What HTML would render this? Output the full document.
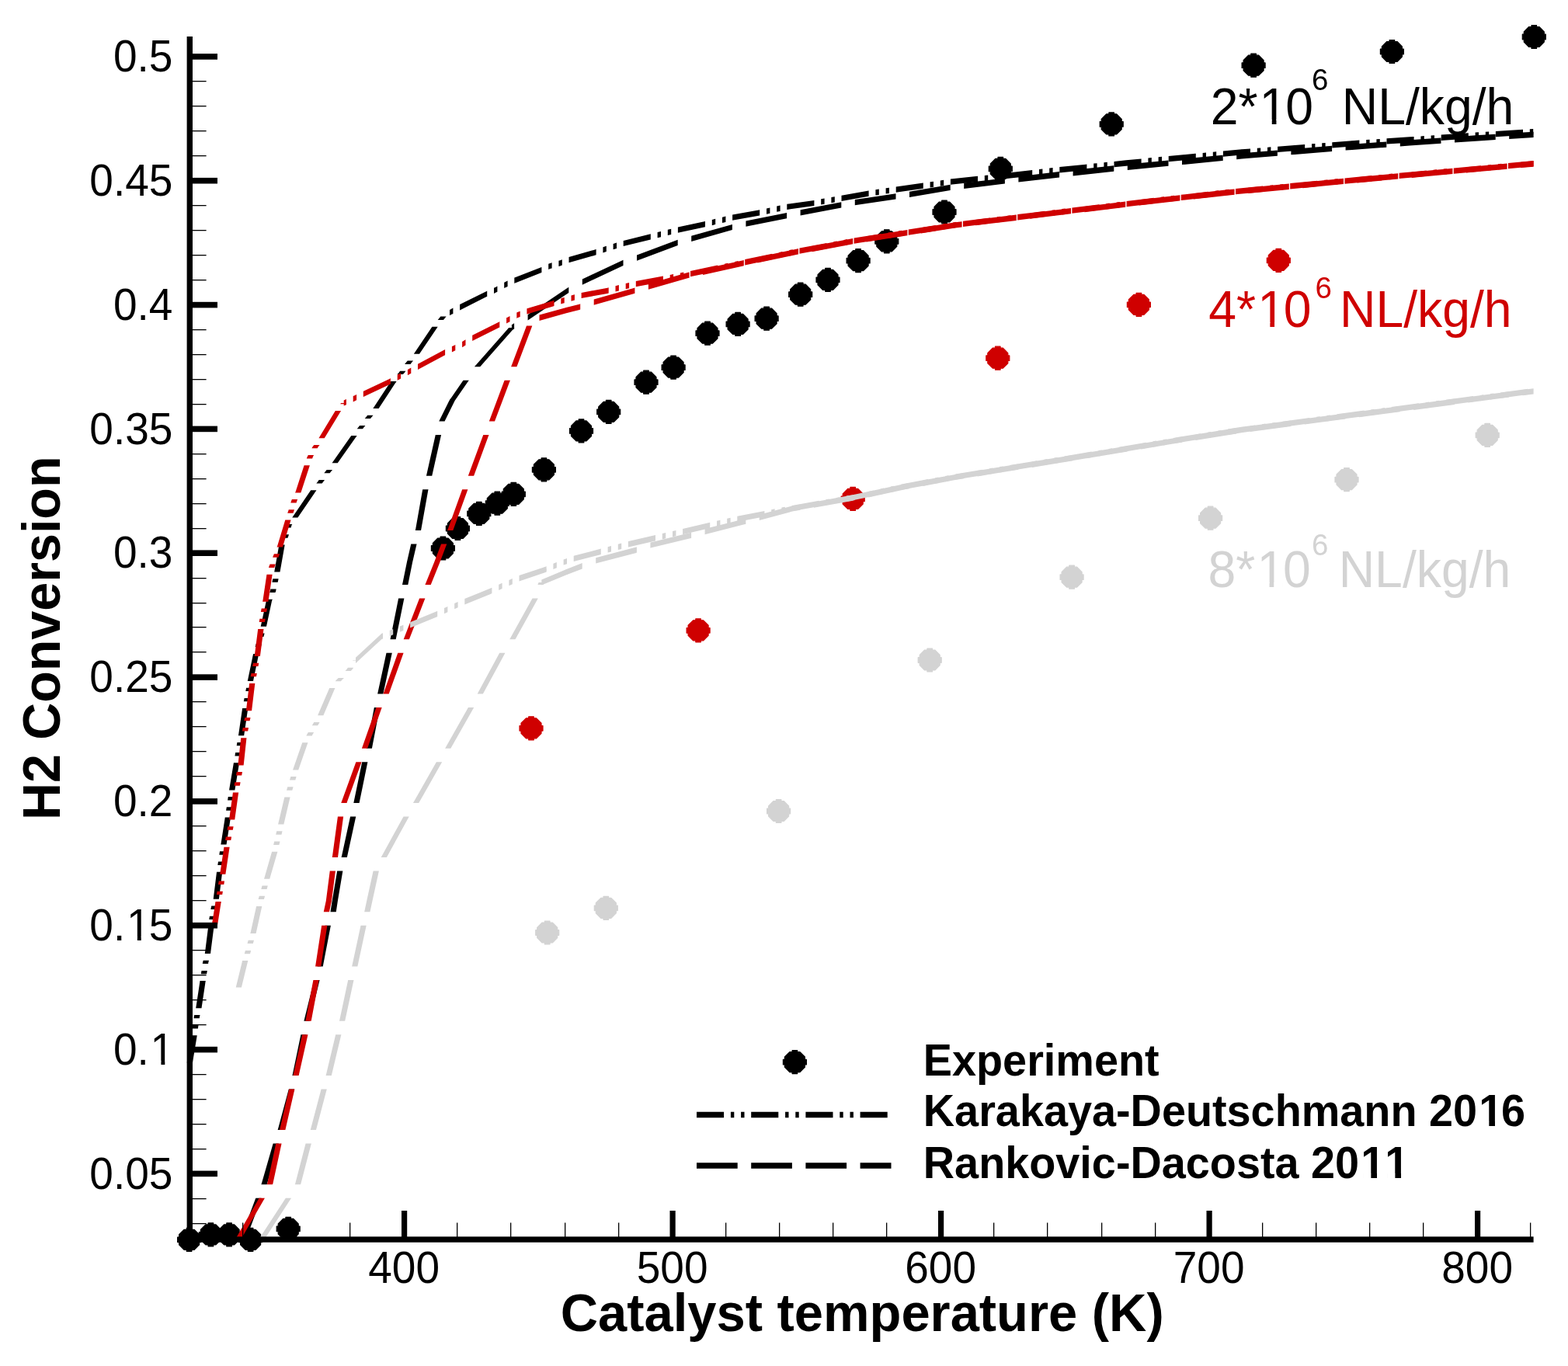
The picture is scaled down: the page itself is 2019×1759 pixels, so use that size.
<!DOCTYPE html>
<html lang="en"><head><meta charset="utf-8"><title>H2 Conversion vs Catalyst temperature</title>
<style>html,body{margin:0;padding:0;background:#fff}body{width:2019px;height:1759px;overflow:hidden}svg{display:block}text{font-family:"Liberation Sans",sans-serif;font-kerning:none}</style></head><body>
<svg width="2019" height="1759" viewBox="0 0 2019 1759">
<rect width="2019" height="1759" fill="#fff"/>
<path fill="#000000" stroke="#000000" stroke-width="1.2" stroke-linejoin="round" d="M240.3,1581.3L246.9,1581.3L246.9,1583.3L250.2,1583.3L256.6,1589.7L256.6,1593L258.6,1593L258.6,1599.6L256.6,1599.6L256.6,1602.9L250.2,1609.3L246.9,1609.3L246.9,1611.3L240.3,1611.3L240.3,1609.3L237,1609.3L230.6,1602.9L230.6,1599.6L228.6,1599.6L228.6,1593L230.6,1593L230.6,1589.7L237,1583.3L240.3,1583.3ZM268.1,1574.9L274.7,1574.9L274.7,1576.9L278,1576.9L284.4,1583.3L284.4,1586.6L286.4,1586.6L286.4,1593.2L284.4,1593.2L284.4,1596.5L278,1602.9L274.7,1602.9L274.7,1604.9L268.1,1604.9L268.1,1602.9L264.8,1602.9L258.4,1596.5L258.4,1593.2L256.4,1593.2L256.4,1586.6L258.4,1586.6L258.4,1583.3L264.8,1576.9L268.1,1576.9ZM291.8,1574.9L298.4,1574.9L298.4,1576.9L301.7,1576.9L308.1,1583.3L308.1,1586.6L310.1,1586.6L310.1,1593.2L308.1,1593.2L308.1,1596.5L301.7,1602.9L298.4,1602.9L298.4,1604.9L291.8,1604.9L291.8,1602.9L288.5,1602.9L282.1,1596.5L282.1,1593.2L280.1,1593.2L280.1,1586.6L282.1,1586.6L282.1,1583.3L288.5,1576.9L291.8,1576.9ZM319.3,1581.3L325.9,1581.3L325.9,1583.3L329.2,1583.3L335.6,1589.7L335.6,1593L337.6,1593L337.6,1599.6L335.6,1599.6L335.6,1602.9L329.2,1609.3L325.9,1609.3L325.9,1611.3L319.3,1611.3L319.3,1609.3L316,1609.3L309.6,1602.9L309.6,1599.6L307.6,1599.6L307.6,1593L309.6,1593L309.6,1589.7L316,1583.3L319.3,1583.3ZM367.9,1567.4L374.5,1567.4L374.5,1569.4L377.8,1569.4L384.2,1575.8L384.2,1579.1L386.2,1579.1L386.2,1585.7L384.2,1585.7L384.2,1589L377.8,1595.4L374.5,1595.4L374.5,1597.4L367.9,1597.4L367.9,1595.4L364.6,1595.4L358.2,1589L358.2,1585.7L356.2,1585.7L356.2,1579.1L358.2,1579.1L358.2,1575.8L364.6,1569.4L367.9,1569.4ZM567.1,691L573.7,691L573.7,693L577,693L583.4,699.4L583.4,702.7L585.4,702.7L585.4,709.3L583.4,709.3L583.4,712.6L577,719L573.7,719L573.7,721L567.1,721L567.1,719L563.8,719L557.4,712.6L557.4,709.3L555.4,709.3L555.4,702.7L557.4,702.7L557.4,699.4L563.8,693L567.1,693ZM586.1,665.5L592.7,665.5L592.7,667.5L596,667.5L602.4,673.9L602.4,677.2L604.4,677.2L604.4,683.8L602.4,683.8L602.4,687.1L596,693.5L592.7,693.5L592.7,695.5L586.1,695.5L586.1,693.5L582.8,693.5L576.4,687.1L576.4,683.8L574.4,683.8L574.4,677.2L576.4,677.2L576.4,673.9L582.8,667.5L586.1,667.5ZM613.5,646.4L620.1,646.4L620.1,648.4L623.4,648.4L629.8,654.8L629.8,658.1L631.8,658.1L631.8,664.7L629.8,664.7L629.8,668L623.4,674.4L620.1,674.4L620.1,676.4L613.5,676.4L613.5,674.4L610.2,674.4L603.8,668L603.8,664.7L601.8,664.7L601.8,658.1L603.8,658.1L603.8,654.8L610.2,648.4L613.5,648.4ZM637,633.2L643.6,633.2L643.6,635.2L646.9,635.2L653.3,641.6L653.3,644.9L655.3,644.9L655.3,651.5L653.3,651.5L653.3,654.8L646.9,661.2L643.6,661.2L643.6,663.2L637,663.2L637,661.2L633.7,661.2L627.3,654.8L627.3,651.5L625.3,651.5L625.3,644.9L627.3,644.9L627.3,641.6L633.7,635.2L637,635.2ZM658,621.3L664.6,621.3L664.6,623.3L667.9,623.3L674.3,629.7L674.3,633L676.3,633L676.3,639.6L674.3,639.6L674.3,642.9L667.9,649.3L664.6,649.3L664.6,651.3L658,651.3L658,649.3L654.7,649.3L648.3,642.9L648.3,639.6L646.3,639.6L646.3,633L648.3,633L648.3,629.7L654.7,623.3L658,623.3ZM697.1,589.8L703.7,589.8L703.7,591.8L707,591.8L713.4,598.2L713.4,601.5L715.4,601.5L715.4,608.1L713.4,608.1L713.4,611.4L707,617.8L703.7,617.8L703.7,619.8L697.1,619.8L697.1,617.8L693.8,617.8L687.4,611.4L687.4,608.1L685.4,608.1L685.4,601.5L687.4,601.5L687.4,598.2L693.8,591.8L697.1,591.8ZM745.2,539.9L751.8,539.9L751.8,541.9L755.1,541.9L761.5,548.3L761.5,551.6L763.5,551.6L763.5,558.2L761.5,558.2L761.5,561.5L755.1,567.9L751.8,567.9L751.8,569.9L745.2,569.9L745.2,567.9L741.9,567.9L735.5,561.5L735.5,558.2L733.5,558.2L733.5,551.6L735.5,551.6L735.5,548.3L741.9,541.9L745.2,541.9ZM780.4,515.4L787,515.4L787,517.4L790.3,517.4L796.7,523.8L796.7,527.1L798.7,527.1L798.7,533.7L796.7,533.7L796.7,537L790.3,543.4L787,543.4L787,545.4L780.4,545.4L780.4,543.4L777.1,543.4L770.7,537L770.7,533.7L768.7,533.7L768.7,527.1L770.7,527.1L770.7,523.8L777.1,517.4L780.4,517.4ZM828.7,477.2L835.3,477.2L835.3,479.2L838.6,479.2L845,485.6L845,488.9L847,488.9L847,495.5L845,495.5L845,498.8L838.6,505.2L835.3,505.2L835.3,507.2L828.7,507.2L828.7,505.2L825.4,505.2L819,498.8L819,495.5L817,495.5L817,488.9L819,488.9L819,485.6L825.4,479.2L828.7,479.2ZM863.8,458.1L870.4,458.1L870.4,460.1L873.7,460.1L880.1,466.5L880.1,469.8L882.1,469.8L882.1,476.4L880.1,476.4L880.1,479.7L873.7,486.1L870.4,486.1L870.4,488.1L863.8,488.1L863.8,486.1L860.5,486.1L854.1,479.7L854.1,476.4L852.1,476.4L852.1,469.8L854.1,469.8L854.1,466.5L860.5,460.1L863.8,460.1ZM907.7,414.2L914.3,414.2L914.3,416.2L917.6,416.2L924,422.6L924,425.9L926,425.9L926,432.5L924,432.5L924,435.8L917.6,442.2L914.3,442.2L914.3,444.2L907.7,444.2L907.7,442.2L904.4,442.2L898,435.8L898,432.5L896,432.5L896,425.9L898,425.9L898,422.6L904.4,416.2L907.7,416.2ZM946.8,402.4L953.4,402.4L953.4,404.4L956.7,404.4L963.1,410.8L963.1,414.1L965.1,414.1L965.1,420.7L963.1,420.7L963.1,424L956.7,430.4L953.4,430.4L953.4,432.4L946.8,432.4L946.8,430.4L943.5,430.4L937.1,424L937.1,420.7L935.1,420.7L935.1,414.1L937.1,414.1L937.1,410.8L943.5,404.4L946.8,404.4ZM983.8,395.2L990.4,395.2L990.4,397.2L993.7,397.2L1000.1,403.6L1000.1,406.9L1002.1,406.9L1002.1,413.5L1000.1,413.5L1000.1,416.8L993.7,423.2L990.4,423.2L990.4,425.2L983.8,425.2L983.8,423.2L980.5,423.2L974.1,416.8L974.1,413.5L972.1,413.5L972.1,406.9L974.1,406.9L974.1,403.6L980.5,397.2L983.8,397.2ZM1027.4,364.2L1034,364.2L1034,366.2L1037.3,366.2L1043.7,372.6L1043.7,375.9L1045.7,375.9L1045.7,382.5L1043.7,382.5L1043.7,385.8L1037.3,392.2L1034,392.2L1034,394.2L1027.4,394.2L1027.4,392.2L1024.1,392.2L1017.7,385.8L1017.7,382.5L1015.7,382.5L1015.7,375.9L1017.7,375.9L1017.7,372.6L1024.1,366.2L1027.4,366.2ZM1062.7,345.3L1069.3,345.3L1069.3,347.3L1072.6,347.3L1079,353.7L1079,357L1081,357L1081,363.6L1079,363.6L1079,366.9L1072.6,373.3L1069.3,373.3L1069.3,375.3L1062.7,375.3L1062.7,373.3L1059.4,373.3L1053,366.9L1053,363.6L1051,363.6L1051,357L1053,357L1053,353.7L1059.4,347.3L1062.7,347.3ZM1101.8,320.7L1108.4,320.7L1108.4,322.7L1111.7,322.7L1118.1,329.1L1118.1,332.4L1120.1,332.4L1120.1,339L1118.1,339L1118.1,342.3L1111.7,348.7L1108.4,348.7L1108.4,350.7L1101.8,350.7L1101.8,348.7L1098.5,348.7L1092.1,342.3L1092.1,339L1090.1,339L1090.1,332.4L1092.1,332.4L1092.1,329.1L1098.5,322.7L1101.8,322.7ZM1138.5,295.8L1145.1,295.8L1145.1,297.8L1148.4,297.8L1154.8,304.2L1154.8,307.5L1156.8,307.5L1156.8,314.1L1154.8,314.1L1154.8,317.4L1148.4,323.8L1145.1,323.8L1145.1,325.8L1138.5,325.8L1138.5,323.8L1135.2,323.8L1128.8,317.4L1128.8,314.1L1126.8,314.1L1126.8,307.5L1128.8,307.5L1128.8,304.2L1135.2,297.8L1138.5,297.8ZM1212.7,258L1219.3,258L1219.3,260L1222.6,260L1229,266.4L1229,269.7L1231,269.7L1231,276.3L1229,276.3L1229,279.6L1222.6,286L1219.3,286L1219.3,288L1212.7,288L1212.7,286L1209.4,286L1203,279.6L1203,276.3L1201,276.3L1201,269.7L1203,269.7L1203,266.4L1209.4,260L1212.7,260ZM1285,202.4L1291.6,202.4L1291.6,204.4L1294.9,204.4L1301.3,210.8L1301.3,214.1L1303.3,214.1L1303.3,220.7L1301.3,220.7L1301.3,224L1294.9,230.4L1291.6,230.4L1291.6,232.4L1285,232.4L1285,230.4L1281.7,230.4L1275.3,224L1275.3,220.7L1273.3,220.7L1273.3,214.1L1275.3,214.1L1275.3,210.8L1281.7,204.4L1285,204.4ZM1427.9,144.9L1434.5,144.9L1434.5,146.9L1437.8,146.9L1444.2,153.3L1444.2,156.6L1446.2,156.6L1446.2,163.2L1444.2,163.2L1444.2,166.5L1437.8,172.9L1434.5,172.9L1434.5,174.9L1427.9,174.9L1427.9,172.9L1424.6,172.9L1418.2,166.5L1418.2,163.2L1416.2,163.2L1416.2,156.6L1418.2,156.6L1418.2,153.3L1424.6,146.9L1427.9,146.9ZM1610.8,69.2L1617.4,69.2L1617.4,71.2L1620.7,71.2L1627.1,77.6L1627.1,80.9L1629.1,80.9L1629.1,87.5L1627.1,87.5L1627.1,90.8L1620.7,97.2L1617.4,97.2L1617.4,99.2L1610.8,99.2L1610.8,97.2L1607.5,97.2L1601.1,90.8L1601.1,87.5L1599.1,87.5L1599.1,80.9L1601.1,80.9L1601.1,77.6L1607.5,71.2L1610.8,71.2ZM1789.1,51.5L1795.7,51.5L1795.7,53.5L1799,53.5L1805.4,59.9L1805.4,63.2L1807.4,63.2L1807.4,69.8L1805.4,69.8L1805.4,73.1L1799,79.5L1795.7,79.5L1795.7,81.5L1789.1,81.5L1789.1,79.5L1785.8,79.5L1779.4,73.1L1779.4,69.8L1777.4,69.8L1777.4,63.2L1779.4,63.2L1779.4,59.9L1785.8,53.5L1789.1,53.5ZM1972,32.5L1978.6,32.5L1978.6,34.5L1981.9,34.5L1988.3,40.9L1988.3,44.2L1990.3,44.2L1990.3,50.8L1988.3,50.8L1988.3,54.1L1981.9,60.5L1978.6,60.5L1978.6,62.5L1972,62.5L1972,60.5L1968.7,60.5L1962.3,54.1L1962.3,50.8L1960.3,50.8L1960.3,44.2L1962.3,44.2L1962.3,40.9L1968.7,34.5L1972,34.5Z"/>
<g fill="#000000"><path d="M240.7,1368.4L241.7,1362L249,1362L248,1368.4ZM241.7,1362L243.3,1352L250.7,1352L249,1362ZM243.3,1352L246.2,1334.8L253.5,1334.8L250.7,1352ZM246.2,1334.8L246.4,1333.3L253.7,1333.3L253.5,1334.8ZM247.6,1324.5L248.2,1320.1L255.5,1320.1L254.9,1324.5ZM249.5,1311.3L249.8,1308.7L257.1,1308.7L256.8,1311.3ZM249.8,1308.7L250.3,1306.9L257.6,1306.9L257.1,1308.7ZM252.2,1298.2L252.3,1297.6L259.6,1297.6L259.5,1298.2ZM252.3,1297.6L257.4,1264.1L264.6,1264.1L259.6,1297.6ZM257.4,1264.1L257.5,1263.1L264.8,1263.1L264.6,1264.1ZM258.8,1254.3L259.5,1249.9L266.8,1249.9L266.1,1254.3ZM260.8,1241.1L261.1,1239.3L268.3,1239.3L268.1,1241.1ZM261.1,1239.3L261.7,1236.7L269,1236.7L268.3,1239.3ZM263.8,1228L268.2,1192.9L275.5,1192.9L271,1228ZM269.3,1184.1L269.9,1180L277.1,1180L276.6,1184.1ZM269.9,1180L269.9,1179.7L277.2,1179.7L277.1,1180ZM271.4,1170.9L271.9,1168L279.1,1168L278.7,1170.9ZM271.9,1168L272.3,1166.5L279.6,1166.5L279.1,1168ZM274.7,1157.8L279,1123.1L286.2,1123.1L281.9,1157.8ZM279,1123.1L279,1122.7L286.3,1122.7L286.2,1123.1ZM280.3,1113.9L281,1109.5L288.3,1109.5L287.6,1113.9ZM282.3,1100.7L283,1096.3L290.3,1096.3L289.6,1100.7ZM284.3,1087.6L284.4,1087.2L291.6,1087.2L291.6,1087.6ZM284.4,1087.2L289.6,1053.7L296.8,1053.7L291.6,1087.2ZM289.6,1053.7L289.7,1052.5L297,1052.5L296.8,1053.7ZM291.1,1043.7L291.8,1039.3L299.1,1039.3L298.4,1043.7ZM293.1,1030.5L293.8,1026.1L301.1,1026.1L300.4,1030.5ZM295.1,1017.4L295.2,1016.5L302.5,1016.5L302.4,1017.4ZM295.2,1016.5L300.8,983L308,983L302.5,1016.5ZM300.8,983L300.9,982.3L308.2,982.3L308,983ZM302.4,973.5L303.2,969.1L310.5,969.1L309.7,973.5ZM304.7,960.3L305.4,955.9L312.7,955.9L312,960.3ZM306.9,947.2L307,947.1L314.2,947.1L314.2,947.2ZM307,947.1L311.9,913.6L319.1,913.6L314.2,947.1ZM311.9,913.6L312.1,912.1L319.4,912.1L319.1,913.6ZM313.8,903.3L314.6,898.9L321.9,898.9L321.1,903.3ZM316.3,890.1L317.1,885.7L324.4,885.7L323.6,890.1ZM318.8,877L318.9,876.5L326.1,876.5L326.1,877ZM318.9,876.5L325.6,844.2L332.8,844.2L326.1,876.5ZM325.6,844.2L326.2,841.9L333.5,841.9L332.8,844.2ZM328.6,833.1L329.8,828.7L337.1,828.7L335.9,833.1ZM332.1,819.9L333.3,815.5L340.6,815.5L339.4,819.9ZM335.7,806.8L342.9,773.6L350.1,773.6L343,806.8ZM342.9,773.6L343.6,771.7L350.9,771.7L350.1,773.6ZM347.2,762.9L347.9,761.2L355.1,761.2L354.5,762.9ZM347.9,761.2L348.4,758.5L355.7,758.5L355.1,761.2ZM350.4,749.7L351.3,745.3L358.6,745.3L357.7,749.7ZM353.2,736.6L353.2,736.4L360.5,736.4L360.5,736.6ZM353.2,736.4L359.4,701.5L366.7,701.5L360.5,736.4ZM363.1,692.7L364,690.8L371.2,690.8L370.4,692.7ZM364,690.8L364.7,688.3L372,688.3L371.2,690.8ZM367.3,679.5L368.4,676L375.6,676L374.6,679.5ZM368.4,676L369.1,675.1L376.4,675.1L375.6,676ZM376.2,666.4L376.4,666.2L383.6,666.2L383.5,666.4ZM376.4,666.2L400.2,631.3L407.5,631.3L383.6,666.2ZM407.3,622.5L408.6,620.9L415.8,620.9L414.6,622.5ZM408.6,620.9L410.7,618.1L418,618.1L415.8,620.9ZM417.3,609.3L418.5,607.8L425.8,607.8L424.6,609.3ZM418.5,607.8L420.7,604.9L428,604.9L425.8,607.8ZM427.5,596.2L427.7,596L434.9,596L434.8,596.2ZM427.7,596L452.3,561.1L459.6,561.1L434.9,596ZM459.7,552.3L461.4,550.3L468.6,550.3L467,552.3ZM461.4,550.3L463.1,547.9L470.4,547.9L468.6,550.3ZM469.7,539.1L470.6,537.9L477.8,537.9L477,539.1ZM470.6,537.9L473.2,534.7L480.5,534.7L477.8,537.9ZM480.3,526L480.5,525.8L487.8,525.8L487.6,526ZM480.5,525.8L503.3,490.9L510.6,490.9L487.8,525.8ZM511.6,482.1L513.5,480.1L520.8,480.1L518.9,482.1ZM513.5,480.1L515.1,477.7L522.4,477.7L520.8,480.1ZM521.2,468.9L522.6,467L529.9,467L528.5,468.9ZM522.6,467L524.8,464.5L532.1,464.5L529.9,467ZM532.8,455.8L533,455.6L540.2,455.6L540.1,455.8ZM533,455.6L556.4,420.7L563.7,420.7L540.2,455.6ZM563.7,411.9L567.3,407.5L574.6,407.5L571,411.9ZM579,398.9L580,398.4L580,405.6L579,406.2ZM580,398.4L583.4,396.6L583.4,403.9L580,405.6ZM592.1,392.1L626.6,374.9L626.6,382.1L592.1,399.4ZM626.6,374.9L627.2,374.6L627.2,381.9L626.6,382.1ZM636,370.7L637.8,369.9L637.8,377.1L636,378ZM637.8,369.9L640.4,368.4L640.4,375.7L637.8,377.1ZM649.2,363.7L650.2,363.2L650.2,370.4L649.2,371ZM650.2,363.2L653.6,361.6L653.6,368.9L650.2,370.4ZM662.3,357.6L662.6,357.5L662.6,364.8L662.3,364.9ZM662.6,357.5L697.3,343.9L697.3,351.1L662.6,364.8ZM697.3,343.9L697.4,343.8L697.4,351.1L697.3,351.1ZM706.2,339.8L708.4,338.9L708.4,346.1L706.2,347.1ZM708.4,338.9L710.6,338.2L710.6,345.5L708.4,346.1ZM719.4,335.7L721.3,335.2L721.3,342.4L719.4,343ZM721.3,335.2L723.8,334.2L723.8,341.5L721.3,342.4ZM732.5,331L767.6,321.1L767.6,328.3L732.5,338.2ZM776.4,318.2L780.8,316.8L780.8,324.1L776.4,325.5ZM789.6,314L794,312.6L794,319.9L789.6,321.3ZM802.7,309.9L837.8,301.2L837.8,308.4L802.7,317.1ZM846.6,299L851,297.9L851,305.2L846.6,306.3ZM859.8,295.8L864.2,294.7L864.2,302L859.8,303.1ZM872.9,292.6L908,285.1L908,292.3L872.9,299.8ZM916.8,282.9L921.2,281.8L921.2,289.1L916.8,290.2ZM930,279.7L934.4,278.6L934.4,285.9L930,287ZM943.1,276.5L978.2,270.2L978.2,277.5L943.1,283.8ZM987,268.4L991.4,267.4L991.4,274.7L987,275.7ZM1000.2,265.5L1004.6,264.6L1004.6,271.9L1000.2,272.8ZM1013.3,262.8L1048.4,257.9L1048.4,265.1L1013.3,270ZM1057.2,256.3L1061.6,255.5L1061.6,262.8L1057.2,263.6ZM1070.4,254L1074.8,253.2L1074.8,260.5L1070.4,261.3ZM1083.5,251.7L1118.6,245.4L1118.6,252.8L1083.5,258.9ZM1127.4,244.2L1131.8,243.6L1131.8,250.9L1127.4,251.5ZM1140.6,242.3L1145,241.7L1145,249L1140.6,249.6ZM1153.7,240.4L1188.8,235.5L1188.8,242.8L1153.7,247.8ZM1197.6,234.3L1202,233.7L1202,241L1197.6,241.6ZM1210.8,232.4L1215.2,231.8L1215.2,239.1L1210.8,239.7ZM1223.9,230.5L1259,226.8L1259,234.1L1223.9,237.8ZM1267.8,225.9L1272.2,225.4L1272.2,232.7L1267.8,233.2ZM1281,224.4L1285.4,224L1285.4,231.3L1281,231.7ZM1294.1,223L1329.2,219.1L1329.2,226.4L1294.1,230.3ZM1338,218.1L1342.4,217.6L1342.4,224.9L1338,225.4ZM1351.2,216.6L1355.6,216.1L1355.6,223.4L1351.2,223.9ZM1364.3,215.1L1398,211.7L1398,219L1364.3,222.4ZM1398,211.7L1399.4,211.5L1399.4,218.8L1398,219ZM1408.2,210.6L1412.6,210.2L1412.6,217.5L1408.2,217.9ZM1421.4,209.3L1425.8,208.8L1425.8,216.1L1421.4,216.6ZM1434.5,207.9L1450,206.3L1450,213.7L1434.5,215.2ZM1450,206.3L1469.6,204.4L1469.6,211.7L1450,213.7ZM1478.4,203.6L1482.8,203.1L1482.8,210.4L1478.4,210.9ZM1491.6,202.3L1496,201.8L1496,209.1L1491.6,209.6ZM1504.7,201L1539,197.8L1539,205.1L1504.7,208.3ZM1539,197.8L1539.8,197.7L1539.8,205L1539,205.1ZM1548.6,196.9L1553,196.5L1553,203.8L1548.6,204.2ZM1561.8,195.7L1566.2,195.3L1566.2,202.6L1561.8,203ZM1574.9,194.5L1599,192.2L1599,199.6L1574.9,201.8ZM1599,192.2L1610,191.4L1610,198.7L1599,199.6ZM1618.8,190.7L1623.2,190.4L1623.2,197.7L1618.8,198ZM1632,189.7L1636.4,189.3L1636.4,196.6L1632,197ZM1645.1,188.7L1667,186.9L1667,194.2L1645.1,196ZM1667,186.9L1680.2,185.9L1680.2,193.2L1667,194.2ZM1689,185.3L1693.4,184.9L1693.4,192.2L1689,192.6ZM1702.2,184.2L1706.6,183.9L1706.6,191.2L1702.2,191.5ZM1715.3,183.2L1741,181.2L1741,188.6L1715.3,190.5ZM1741,181.2L1750.4,180.6L1750.4,187.9L1741,188.6ZM1759.2,180L1763.6,179.8L1763.6,187.1L1759.2,187.3ZM1772.4,179.2L1776.8,178.9L1776.8,186.2L1772.4,186.5ZM1785.5,178.3L1815,176.3L1815,183.7L1785.5,185.6ZM1815,176.3L1820.6,176L1820.6,183.3L1815,183.7ZM1829.4,175.4L1833.8,175.1L1833.8,182.4L1829.4,182.7ZM1842.6,174.5L1847,174.2L1847,181.5L1842.6,181.8ZM1855.7,173.6L1890.8,171.2L1890.8,178.5L1855.7,180.9ZM1899.6,170.6L1900,170.5L1900,177.8L1899.6,177.9ZM1900,170.5L1904,170.3L1904,177.6L1900,177.8ZM1912.8,169.7L1917.2,169.5L1917.2,176.8L1912.8,177ZM1925.9,168.9L1961,166.7L1961,174L1925.9,176.2ZM1969.8,166.2L1974.2,165.9L1974.2,173.2L1969.8,173.5Z"/><path d="M242.7,1362a2.6,2.6 0 1,0 5.1,0a2.6,2.6 0 1,0 -5.1,0ZM244.4,1352a2.6,2.6 0 1,0 5.1,0a2.6,2.6 0 1,0 -5.1,0ZM1447.4,210a2.6,2.6 0 1,0 5.1,0a2.6,2.6 0 1,0 -5.1,0ZM1596.4,195.9a2.6,2.6 0 1,0 5.1,0a2.6,2.6 0 1,0 -5.1,0ZM1664.4,190.6a2.6,2.6 0 1,0 5.1,0a2.6,2.6 0 1,0 -5.1,0ZM1738.4,184.9a2.6,2.6 0 1,0 5.1,0a2.6,2.6 0 1,0 -5.1,0ZM1812.4,180a2.6,2.6 0 1,0 5.1,0a2.6,2.6 0 1,0 -5.1,0Z"/></g>
<g fill="#000000"><path d="M309.5,1595.5L329.2,1543L336.5,1543L316.8,1595.5ZM329.2,1543L329.3,1542.8L336.6,1542.8L336.5,1543ZM336.3,1525.3L336.7,1524.4L343.9,1524.4L343.6,1525.3ZM336.7,1524.4L351.6,1472.8L358.8,1472.8L343.9,1524.4ZM351.6,1472.8L351.6,1472.6L358.9,1472.6L358.8,1472.8ZM357.5,1455.1L357.8,1454.5L365,1454.5L364.8,1455.1ZM357.8,1454.5L371.8,1402.4L379,1402.4L365,1454.5ZM376.4,1384.9L376.6,1384.3L383.8,1384.3L383.7,1384.9ZM376.6,1384.3L387.4,1332.3L394.6,1332.3L383.8,1384.3ZM387.4,1332.3L387.4,1332.2L394.7,1332.2L394.6,1332.3ZM391.3,1314.7L391.5,1314.2L398.8,1314.2L398.6,1314.7ZM391.5,1314.2L404.4,1262.1L411.6,1262.1L398.8,1314.2ZM404.4,1262.1L404.4,1262L411.7,1262L411.6,1262.1ZM408.5,1244.5L408.6,1244.3L415.8,1244.3L415.8,1244.5ZM408.6,1244.3L418.5,1192.2L425.8,1192.2L415.8,1244.3ZM418.5,1192.2L418.6,1191.8L425.9,1191.8L425.8,1192.2ZM425.4,1174.3L425.5,1174.1L432.8,1174.1L432.7,1174.3ZM425.5,1174.1L427.7,1160L434.9,1160L432.8,1174.1ZM427.7,1160L434.1,1121.9L441.3,1121.9L434.9,1160ZM434.1,1121.9L434.1,1121.6L441.4,1121.6L441.3,1121.9ZM439.5,1104.1L439.8,1103.3L447,1103.3L446.8,1104.1ZM439.8,1103.3L451,1051.7L458.2,1051.7L447,1103.3ZM451,1051.7L451,1051.4L458.3,1051.4L458.2,1051.7ZM455.3,1033.9L455.5,1033.1L462.8,1033.1L462.6,1033.9ZM455.5,1033.1L466.1,981.8L473.3,981.8L462.8,1033.1ZM466.1,981.8L466.2,981.2L473.5,981.2L473.3,981.8ZM471.6,963.7L471.8,963.2L479,963.2L478.9,963.7ZM471.8,963.2L481.7,911.7L488.9,911.7L479,963.2ZM481.7,911.7L481.8,911L489.1,911L488.9,911.7ZM486.1,893.5L486.2,893.3L493.4,893.3L493.4,893.5ZM486.2,893.3L497.5,840.8L504.8,840.8L493.4,893.3ZM502.4,823.3L502.6,822.7L509.8,822.7L509.7,823.3ZM502.6,822.7L513.1,770.6L520.4,770.6L509.8,822.7ZM518,753.1L518.1,752.5L525.4,752.5L525.3,753.1ZM518.1,752.5L523.9,724L531.1,724L525.4,752.5ZM523.9,724L529.2,700.7L536.5,700.7L531.1,724ZM529.2,700.7L529.3,700.4L536.6,700.4L536.5,700.7ZM534.7,682.9L535,682.2L542.2,682.2L542,682.9ZM535,682.2L544.1,630.8L551.4,630.8L542.2,682.2ZM544.1,630.8L544.3,630.2L551.6,630.2L551.4,630.8ZM549,612.7L549.1,612L556.4,612L556.3,612.7ZM549.1,612L560.6,560.7L567.9,560.7L556.4,612ZM560.6,560.7L560.7,560L568,560L567.9,560.7ZM565.3,542.5L565.5,542.1L572.8,542.1L572.6,542.5ZM565.5,542.1L578.4,516L585.6,516L572.8,542.1ZM578.4,516L595.8,490.8L603,490.8L585.6,516ZM595.8,490.8L596.6,489.8L603.9,489.8L603,490.8ZM610.9,472.3L655.2,421.9L662.5,421.9L618.2,472.3ZM658.9,418.2L662.1,416.2L662.1,423.5L658.9,425.5ZM679.6,405.2L730,371.2L730,378.4L679.6,412.5ZM730,371.2L732.3,369.8L732.3,377.1L730,378.4ZM749.8,359.5L802.5,334.7L802.5,341.9L749.8,366.8ZM820,328.5L872.7,308.7L872.7,316L820,335.8ZM890.2,303.7L942.9,288.9L942.9,296.1L890.2,310.9ZM960.4,284.6L1013.1,274L1013.1,281.2L960.4,291.8ZM1030.6,270.2L1083.3,260.2L1083.3,267.5L1030.6,277.5ZM1100.8,257.1L1153.5,249.2L1153.5,256.4L1100.8,264.3ZM1171,246.7L1223.7,237.7L1223.7,245L1171,254ZM1241.2,235.6L1293.9,229.3L1293.9,236.6L1241.2,242.9ZM1311.4,227.2L1364.1,221.1L1364.1,228.4L1311.4,234.5ZM1381.6,219.1L1434,213.3L1434,220.7L1381.6,226.4ZM1434,213.3L1434.3,213.3L1434.3,220.6L1434,220.7ZM1451.8,211.6L1504.5,206.5L1504.5,213.8L1451.8,218.9ZM1522,204.8L1574,199.8L1574,207.1L1522,212.1ZM1574,199.8L1574.7,199.7L1574.7,207L1574,207.1ZM1592.2,197.9L1599,197.2L1599,204.6L1592.2,205.2ZM1599,197.2L1644.9,193.5L1644.9,200.8L1599,204.6ZM1662.4,192L1667,191.7L1667,199L1662.4,199.3ZM1667,191.7L1715.1,187.8L1715.1,195.1L1667,199ZM1732.6,186.3L1741,185.7L1741,193L1732.6,193.6ZM1741,185.7L1785.3,182.4L1785.3,189.7L1741,193ZM1802.8,181.1L1815,180.2L1815,187.5L1802.8,188.4ZM1815,180.2L1855.5,177.4L1855.5,184.7L1815,187.5ZM1873,176.2L1900,174.3L1900,181.7L1873,183.5ZM1900,174.3L1925.7,172.7L1925.7,180L1900,181.7ZM1943.2,171.6L1974.6,169.7L1974.6,177L1943.2,178.9Z"/><path d="M428.7,1160a2.6,2.6 0 1,0 5.1,0a2.6,2.6 0 1,0 -5.1,0ZM524.9,724a2.6,2.6 0 1,0 5.1,0a2.6,2.6 0 1,0 -5.1,0ZM579.4,516a2.6,2.6 0 1,0 5.1,0a2.6,2.6 0 1,0 -5.1,0ZM1596.4,200.9a2.6,2.6 0 1,0 5.1,0a2.6,2.6 0 1,0 -5.1,0ZM1664.4,195.3a2.6,2.6 0 1,0 5.1,0a2.6,2.6 0 1,0 -5.1,0ZM1738.4,189.3a2.6,2.6 0 1,0 5.1,0a2.6,2.6 0 1,0 -5.1,0ZM1812.4,183.8a2.6,2.6 0 1,0 5.1,0a2.6,2.6 0 1,0 -5.1,0ZM1897.4,178a2.6,2.6 0 1,0 5.1,0a2.6,2.6 0 1,0 -5.1,0Z"/></g>
<path fill="#cf0000" stroke="#cf0000" stroke-width="1.2" stroke-linejoin="round" d="M680.7,922.8L687.3,922.8L687.3,924.8L690.6,924.8L697,931.2L697,934.5L699,934.5L699,941.1L697,941.1L697,944.4L690.6,950.8L687.3,950.8L687.3,952.8L680.7,952.8L680.7,950.8L677.4,950.8L671,944.4L671,941.1L669,941.1L669,934.5L671,934.5L671,931.2L677.4,924.8L680.7,924.8ZM895.8,796.8L902.4,796.8L902.4,798.8L905.7,798.8L912.1,805.2L912.1,808.5L914.1,808.5L914.1,815.1L912.1,815.1L912.1,818.4L905.7,824.8L902.4,824.8L902.4,826.8L895.8,826.8L895.8,824.8L892.5,824.8L886.1,818.4L886.1,815.1L884.1,815.1L884.1,808.5L886.1,808.5L886.1,805.2L892.5,798.8L895.8,798.8ZM1094.9,627.4L1101.5,627.4L1101.5,629.4L1104.8,629.4L1111.2,635.8L1111.2,639.1L1113.2,639.1L1113.2,645.7L1111.2,645.7L1111.2,649L1104.8,655.4L1101.5,655.4L1101.5,657.4L1094.9,657.4L1094.9,655.4L1091.6,655.4L1085.2,649L1085.2,645.7L1083.2,645.7L1083.2,639.1L1085.2,639.1L1085.2,635.8L1091.6,629.4L1094.9,629.4ZM1281.5,446.2L1288.1,446.2L1288.1,448.2L1291.4,448.2L1297.8,454.6L1297.8,457.9L1299.8,457.9L1299.8,464.5L1297.8,464.5L1297.8,467.8L1291.4,474.2L1288.1,474.2L1288.1,476.2L1281.5,476.2L1281.5,474.2L1278.2,474.2L1271.8,467.8L1271.8,464.5L1269.8,464.5L1269.8,457.9L1271.8,457.9L1271.8,454.6L1278.2,448.2L1281.5,448.2ZM1463.1,377.3L1469.7,377.3L1469.7,379.3L1473,379.3L1479.4,385.7L1479.4,389L1481.4,389L1481.4,395.6L1479.4,395.6L1479.4,398.9L1473,405.3L1469.7,405.3L1469.7,407.3L1463.1,407.3L1463.1,405.3L1459.8,405.3L1453.4,398.9L1453.4,395.6L1451.4,395.6L1451.4,389L1453.4,389L1453.4,385.7L1459.8,379.3L1463.1,379.3ZM1643,320.3L1649.6,320.3L1649.6,322.3L1652.9,322.3L1659.3,328.7L1659.3,332L1661.3,332L1661.3,338.6L1659.3,338.6L1659.3,341.9L1652.9,348.3L1649.6,348.3L1649.6,350.3L1643,350.3L1643,348.3L1639.7,348.3L1633.3,341.9L1633.3,338.6L1631.3,338.6L1631.3,332L1633.3,332L1633.3,328.7L1639.7,322.3L1643,322.3Z"/>
<g fill="#cf0000"><path d="M272.2,1194.8L277.5,1160.9L284.8,1160.9L279.5,1194.8ZM278.9,1152.1L279.6,1147.7L286.9,1147.7L286.2,1152.1ZM281,1138.9L281.7,1134.5L289,1134.5L288.3,1138.9ZM283.1,1125.8L283.4,1124.3L290.6,1124.3L290.4,1125.8ZM283.4,1124.3L288.4,1090.9L295.6,1090.9L290.6,1124.3ZM288.4,1090.9L288.4,1090.7L295.7,1090.7L295.6,1090.9ZM290,1081.9L290.8,1077.5L298.1,1077.5L297.3,1081.9ZM292.5,1068.7L293.3,1064.3L300.6,1064.3L299.8,1068.7ZM294.9,1055.6L295.1,1054.9L302.3,1054.9L302.2,1055.6ZM295.1,1054.9L299.8,1021.5L307,1021.5L302.3,1054.9ZM299.8,1021.5L299.9,1020.5L307.2,1020.5L307,1021.5ZM301.5,1011.7L302.3,1007.3L309.6,1007.3L308.8,1011.7ZM303.9,998.5L304.7,994.1L312,994.1L311.2,998.5ZM306.3,985.4L306.5,984.3L313.8,984.3L313.6,985.4ZM306.5,984.3L310.2,950.8L317.4,950.8L313.8,984.3ZM310.2,950.8L310.2,950.3L317.5,950.3L317.4,950.8ZM311.9,941.5L312.7,937.1L320,937.1L319.2,941.5ZM314.3,928.3L315.2,923.9L322.5,923.9L321.6,928.3ZM316.8,915.2L316.9,914.9L324.1,914.9L324.1,915.2ZM316.9,914.9L321.1,880.2L328.3,880.2L324.1,914.9ZM321.1,880.2L321.1,880.1L328.4,880.1L328.3,880.2ZM322.7,871.3L323.5,866.9L330.8,866.9L330,871.3ZM325.2,858.1L326,853.7L333.3,853.7L332.5,858.1ZM327.6,845L327.8,844.2L335,844.2L334.9,845ZM327.8,844.2L332.2,809.9L339.5,809.9L335,844.2ZM333.7,801.1L334.4,796.7L341.7,796.7L341,801.1ZM335.9,787.9L336.7,783.5L344,783.5L343.2,787.9ZM338.1,774.8L338.4,773.6L345.6,773.6L345.4,774.8ZM338.4,773.6L343.4,740.1L350.6,740.1L345.6,773.6ZM343.4,740.1L343.5,739.7L350.8,739.7L350.6,740.1ZM346,730.9L346.6,729L353.8,729L353.3,730.9ZM346.6,729L347.6,726.5L354.9,726.5L353.8,729ZM351.1,717.7L352.9,713.3L360.2,713.3L358.4,717.7ZM356.5,704.6L357,703.4L364.2,703.4L363.8,704.6ZM357,703.4L367.3,669.5L374.6,669.5L364.2,703.4ZM370.2,660.7L371.4,657.4L378.6,657.4L377.5,660.7ZM371.4,657.4L371.7,656.3L379,656.3L378.6,657.4ZM374.3,647.5L375.1,645L382.3,645L381.6,647.5ZM375.1,645L375.9,643.1L383.2,643.1L382.3,645ZM380,634.4L380.6,633.2L387.8,633.2L387.3,634.4ZM380.6,633.2L391.6,599.3L398.9,599.3L387.8,633.2ZM394.8,590.5L395.8,588L403,588L402.1,590.5ZM395.8,588L396.8,586.1L404.1,586.1L403,588ZM401.4,577.3L402.4,575.6L409.6,575.6L408.7,577.3ZM402.4,575.6L404.3,572.9L411.6,572.9L409.6,575.6ZM410.4,564.2L411.2,563L418.5,563L417.7,564.2ZM411.2,563L431.8,529.1L439.1,529.1L418.5,563ZM438.1,520.3L439.1,519L446.3,519L445.4,520.3ZM442.7,515.4L445.9,513.9L445.9,521.2L442.7,522.6ZM454.7,510.1L456.1,509.5L456.1,516.8L454.7,517.4ZM456.1,509.5L459.1,508L459.1,515.3L456.1,516.8ZM467.8,503.8L468,503.8L468,511L467.8,511.1ZM468,503.8L501.9,487.7L501.9,494.9L468,511ZM501.9,487.7L502.9,487.1L502.9,494.4L501.9,494.9ZM511.7,482.5L513.8,481.5L513.8,488.8L511.7,489.8ZM513.8,481.5L516.1,480.3L516.1,487.6L513.8,488.8ZM524.9,475.9L526.2,475.2L526.2,482.5L524.9,483.2ZM526.2,475.2L529.3,473.5L529.3,480.8L526.2,482.5ZM538,468.7L572.1,450.5L572.1,457.8L538,476ZM572.1,450.5L573.1,450L573.1,457.3L572.1,457.8ZM581.9,446.1L583.3,445.5L583.3,452.8L581.9,453.4ZM583.3,445.5L586.3,444L586.3,451.3L583.3,452.8ZM595.1,439.9L596.4,439.2L596.4,446.5L595.1,447.2ZM596.4,439.2L599.5,437.3L599.5,444.6L596.4,446.5ZM608.2,431.7L642.7,414.5L642.7,421.8L608.2,439ZM642.7,414.5L643.3,414.1L643.3,421.4L642.7,421.8ZM652.1,409.3L653.9,408.4L653.9,415.6L652.1,416.6ZM653.9,408.4L656.5,407L656.5,414.3L653.9,415.6ZM665.3,402.6L666.3,402.1L666.3,409.3L665.3,409.9ZM666.3,402.1L669.7,400.7L669.7,408L666.3,409.3ZM678.4,397.3L678.7,397.2L678.7,404.4L678.4,404.6ZM678.7,397.2L712.1,387.2L712.1,394.5L678.7,404.4ZM712.1,387.2L713.5,386.8L713.5,394.1L712.1,394.5ZM722.3,384.2L724.5,383.6L724.5,390.8L722.3,391.5ZM724.5,383.6L726.7,382.9L726.7,390.2L724.5,390.8ZM735.5,380.5L739.9,379.3L739.9,386.6L735.5,387.8ZM748.6,376.9L782.1,370.7L782.1,377.9L748.6,384.1ZM782.1,370.7L783.7,370.3L783.7,377.6L782.1,377.9ZM792.5,368.2L796.9,367.1L796.9,374.4L792.5,375.5ZM805.7,365L810.1,364L810.1,371.3L805.7,372.3ZM818.8,361.9L853.9,355.5L853.9,362.8L818.8,369.2ZM862.7,353.9L867.1,353.1L867.1,360.4L862.7,361.2ZM875.9,351.4L880.3,350.6L880.3,357.9L875.9,358.7ZM889,349L924.1,341.6L924.1,348.9L889,356.3ZM932.9,339.7L937.3,338.8L937.3,346.1L932.9,347ZM946.1,336.9L950.5,336L950.5,343.3L946.1,344.2ZM959.2,334.1L994.3,326.7L994.3,334L959.2,341.4ZM1003.1,324.9L1007.5,324L1007.5,331.3L1003.1,332.2ZM1016.3,322.1L1020.7,321.2L1020.7,328.5L1016.3,329.4ZM1029.4,319.4L1064.5,312.9L1064.5,320.2L1029.4,326.7ZM1073.3,311.3L1077.7,310.5L1077.7,317.8L1073.3,318.6ZM1086.5,308.9L1090.9,308.1L1090.9,315.4L1086.5,316.2ZM1099.6,306.5L1134.7,301L1134.7,308.3L1099.6,313.8ZM1143.5,299.6L1147.9,298.9L1147.9,306.2L1143.5,306.9ZM1156.7,297.5L1161.1,296.8L1161.1,304.1L1156.7,304.8ZM1169.8,295.4L1204.9,289.9L1204.9,297.2L1169.8,302.7ZM1213.7,288.5L1218.1,287.8L1218.1,295.1L1213.7,295.8ZM1226.9,286.4L1230,286L1230,293.2L1226.9,293.7ZM1230,286L1231.3,285.8L1231.3,293.1L1230,293.2ZM1240,284.7L1275.1,280.4L1275.1,287.7L1240,292ZM1283.9,279.3L1288.3,278.8L1288.3,286.1L1283.9,286.6ZM1297.1,277.7L1301.5,277.2L1301.5,284.5L1297.1,285ZM1310.2,276.1L1330,273.7L1330,280.9L1310.2,283.4ZM1330,273.7L1345.3,271.8L1345.3,279.1L1330,280.9ZM1354.1,270.7L1358.5,270.2L1358.5,277.5L1354.1,278ZM1367.3,269.1L1371.7,268.6L1371.7,275.9L1367.3,276.4ZM1380.4,267.5L1415.5,263.3L1415.5,270.6L1380.4,274.8ZM1424.3,262.2L1428.7,261.6L1428.7,268.9L1424.3,269.5ZM1437.5,260.6L1441.9,260L1441.9,267.3L1437.5,267.9ZM1450.6,259L1478,255.7L1478,262.9L1450.6,266.3ZM1478,255.7L1485.7,254.8L1485.7,262.1L1478,262.9ZM1494.5,253.8L1498.9,253.3L1498.9,260.6L1494.5,261.1ZM1507.7,252.3L1512.1,251.8L1512.1,259.1L1507.7,259.6ZM1520.8,250.8L1555.9,246.8L1555.9,254.1L1520.8,258.1ZM1564.7,245.8L1569.1,245.3L1569.1,252.6L1564.7,253.1ZM1577.9,244.3L1580,244L1580,251.3L1577.9,251.6ZM1580,244L1582.3,243.8L1582.3,251.1L1580,251.3ZM1591,243L1626.1,239.6L1626.1,246.9L1591,250.3ZM1634.9,238.7L1639.3,238.3L1639.3,245.6L1634.9,246ZM1648.1,237.4L1652.5,237L1652.5,244.3L1648.1,244.7ZM1661.2,236.1L1696.3,232.7L1696.3,240L1661.2,243.4ZM1705.1,231.8L1709.5,231.4L1709.5,238.7L1705.1,239.1ZM1718.3,230.6L1722.7,230.2L1722.7,237.5L1718.3,237.9ZM1731.4,229.4L1766.5,226.1L1766.5,233.4L1731.4,236.7ZM1775.3,225.3L1779.7,224.9L1779.7,232.2L1775.3,232.6ZM1788.5,224L1792.9,223.6L1792.9,230.9L1788.5,231.3ZM1801.6,222.8L1830,220.2L1830,227.5L1801.6,230.1ZM1830,220.2L1836.7,219.5L1836.7,226.8L1830,227.5ZM1845.5,218.7L1849.9,218.3L1849.9,225.6L1845.5,226ZM1858.7,217.5L1863.1,217.2L1863.1,224.5L1858.7,224.8ZM1871.8,216.4L1906.9,213.2L1906.9,220.5L1871.8,223.7ZM1915.7,212.4L1920.1,212L1920.1,219.3L1915.7,219.7ZM1928.9,211.2L1933.3,210.8L1933.3,218.1L1928.9,218.5ZM1942,210L1974.6,207L1974.6,214.3L1942,217.3Z"/><path d="M1327.4,277.3a2.6,2.6 0 1,0 5.1,0a2.6,2.6 0 1,0 -5.1,0ZM1475.4,259.3a2.6,2.6 0 1,0 5.1,0a2.6,2.6 0 1,0 -5.1,0ZM1827.4,223.8a2.6,2.6 0 1,0 5.1,0a2.6,2.6 0 1,0 -5.1,0Z"/></g>
<g fill="#cf0000"><path d="M303.2,1595.5L333.5,1543L340.8,1543L310.5,1595.5ZM333.5,1543L333.6,1542.8L340.9,1542.8L340.8,1543ZM343.5,1525.3L344.1,1524.4L351.3,1524.4L350.8,1525.3ZM344.1,1524.4L355.2,1472.8L362.5,1472.8L351.3,1524.4ZM355.2,1472.8L355.3,1472.6L362.6,1472.6L362.5,1472.8ZM360.1,1455.1L360.2,1454.5L367.5,1454.5L367.4,1455.1ZM360.2,1454.5L372.2,1402.4L379.4,1402.4L367.5,1454.5ZM377.4,1384.9L377.6,1384.3L384.8,1384.3L384.7,1384.9ZM377.6,1384.3L389.2,1332.3L396.5,1332.3L384.8,1384.3ZM389.2,1332.3L389.3,1332.2L396.6,1332.2L396.5,1332.3ZM393.3,1314.7L393.5,1314.2L400.8,1314.2L400.6,1314.7ZM393.5,1314.2L403.4,1262.1L410.6,1262.1L400.8,1314.2ZM403.4,1262.1L403.4,1262L410.7,1262L410.6,1262.1ZM406,1244.5L406.1,1244.3L413.3,1244.3L413.3,1244.5ZM406.1,1244.3L414.1,1192.2L421.3,1192.2L413.3,1244.3ZM414.1,1192.2L414.1,1191.8L421.4,1191.8L421.3,1192.2ZM416.7,1174.3L416.8,1174.1L424,1174.1L424,1174.3ZM416.8,1174.1L419.8,1160L427,1160L424,1174.1ZM419.8,1160L424.7,1121.9L431.9,1121.9L427,1160ZM424.7,1121.9L424.7,1121.6L432,1121.6L431.9,1121.9ZM427.7,1104.1L427.9,1103.3L435.1,1103.3L435,1104.1ZM427.9,1103.3L434.9,1051.7L442.1,1051.7L435.1,1103.3ZM434.9,1051.7L434.9,1051.4L442.2,1051.4L442.1,1051.7ZM439.3,1033.9L439.6,1033.1L446.8,1033.1L446.6,1033.9ZM439.6,1033.1L458.2,981.8L465.4,981.8L446.8,1033.1ZM458.2,981.8L458.4,981.2L465.7,981.2L465.4,981.8ZM465.8,963.7L466.1,963.2L473.3,963.2L473.1,963.7ZM466.1,963.2L484.2,911.7L491.4,911.7L473.3,963.2ZM484.2,911.7L484.5,911L491.8,911L491.4,911.7ZM493.4,893.5L493.6,893.3L500.8,893.3L500.7,893.5ZM493.6,893.3L512.3,840.8L519.6,840.8L500.8,893.3ZM519.6,823.3L519.9,822.7L527.1,822.7L526.9,823.3ZM519.9,822.7L540.1,770.6L547.4,770.6L527.1,822.7ZM547.4,753.1L547.6,752.5L554.9,752.5L554.7,753.1ZM547.6,752.5L559.1,724L566.4,724L554.9,752.5ZM559.1,724L568,700.7L575.2,700.7L566.4,724ZM568,700.7L568.1,700.4L575.4,700.4L575.2,700.7ZM576,682.9L576.4,682.2L583.6,682.2L583.3,682.9ZM576.4,682.2L595,630.8L602.2,630.8L583.6,682.2ZM595,630.8L595.2,630.2L602.5,630.2L602.2,630.8ZM602.8,612.7L603.1,612L610.4,612L610.1,612.7ZM603.1,612L622,560.7L629.2,560.7L610.4,612ZM622,560.7L622.3,560L629.6,560L629.2,560.7ZM629.8,542.5L630,542.1L637.2,542.1L637.1,542.5ZM630,542.1L649.2,490.8L656.5,490.8L637.2,542.1ZM649.2,490.8L649.7,489.8L657,489.8L656.5,490.8ZM658.1,472.3L677.1,421.9L684.4,421.9L665.4,472.3ZM677.1,421.9L678,419.6L685.3,419.6L684.4,421.9ZM694.5,405.6L730,395.7L730,402.9L694.5,412.9ZM730,395.7L746.1,391.7L746.1,398.9L730,402.9ZM746.1,391.7L747.2,391.3L747.2,398.6L746.1,398.9ZM764.7,385.5L816.8,370.7L816.8,377.9L764.7,392.8ZM816.8,370.7L817.4,370.5L817.4,377.8L816.8,377.9ZM834.9,365.4L886.2,350.8L886.2,358L834.9,372.7ZM886.2,350.8L887.6,350.4L887.6,357.7L886.2,358ZM905.1,346.6L956.8,335.2L956.8,342.4L905.1,353.9ZM956.8,335.2L957.8,334.9L957.8,342.2L956.8,342.4ZM975.3,331.3L1027.5,320.2L1027.5,327.5L975.3,338.6ZM1027.5,320.2L1028,320.2L1028,327.5L1027.5,327.5ZM1045.5,316.9L1096.9,307.2L1096.9,314.5L1045.5,324.2ZM1096.9,307.2L1098.2,307L1098.2,314.3L1096.9,314.5ZM1115.7,304.3L1168.4,295.9L1168.4,303.2L1115.7,311.6ZM1185.9,293.2L1230,286.2L1230,293.5L1185.9,300.5ZM1230,286.2L1238.6,285.2L1238.6,292.5L1230,293.5ZM1256.1,283L1308.8,276.6L1308.8,283.9L1256.1,290.3ZM1326.3,274.4L1330,274L1330,281.2L1326.3,281.7ZM1330,274L1379,268L1379,275.3L1330,281.2ZM1396.5,265.9L1449.2,259.5L1449.2,266.8L1396.5,273.2ZM1466.7,257.3L1478,256L1478,263.2L1466.7,264.6ZM1478,256L1519.4,251.2L1519.4,258.5L1478,263.2ZM1536.9,249.3L1580,244.3L1580,251.7L1536.9,256.6ZM1580,244.3L1589.6,243.4L1589.6,250.7L1580,251.7ZM1607.1,241.7L1659.8,236.6L1659.8,243.9L1607.1,249ZM1677.3,234.9L1704,232.2L1704,239.6L1677.3,242.2ZM1704,232.2L1730,229.8L1730,237.1L1704,239.6ZM1747.5,228.2L1800.2,223.2L1800.2,230.5L1747.5,235.5ZM1817.7,221.6L1830,220.4L1830,227.8L1817.7,228.9ZM1830,220.4L1870.4,216.8L1870.4,224.1L1830,227.8ZM1887.9,215.2L1940.6,210.4L1940.6,217.7L1887.9,222.5ZM1958.1,208.8L1974.6,207.3L1974.6,214.7L1958.1,216.1Z"/><path d="M420.8,1160a2.6,2.6 0 1,0 5.1,0a2.6,2.6 0 1,0 -5.1,0ZM560.1,724a2.6,2.6 0 1,0 5.1,0a2.6,2.6 0 1,0 -5.1,0ZM727.4,399.3a2.6,2.6 0 1,0 5.1,0a2.6,2.6 0 1,0 -5.1,0ZM1227.4,289.9a2.6,2.6 0 1,0 5.1,0a2.6,2.6 0 1,0 -5.1,0ZM1327.4,277.6a2.6,2.6 0 1,0 5.1,0a2.6,2.6 0 1,0 -5.1,0ZM1475.4,259.6a2.6,2.6 0 1,0 5.1,0a2.6,2.6 0 1,0 -5.1,0ZM1577.4,248a2.6,2.6 0 1,0 5.1,0a2.6,2.6 0 1,0 -5.1,0ZM1701.4,235.9a2.6,2.6 0 1,0 5.1,0a2.6,2.6 0 1,0 -5.1,0ZM1827.4,224.1a2.6,2.6 0 1,0 5.1,0a2.6,2.6 0 1,0 -5.1,0Z"/></g>
<g fill="#d3d3d3"><path d="M303.7,1271.5L311.9,1238.1L319.1,1238.1L310.9,1271.5ZM311.9,1238.1L312.1,1237.1L319.4,1237.1L319.1,1238.1ZM314.7,1228.3L315.9,1223.9L323.2,1223.9L322,1228.3ZM318.5,1215.1L319.7,1210.7L327,1210.7L325.8,1215.1ZM322.2,1202L322.6,1200.9L329.8,1200.9L329.5,1202ZM322.6,1200.9L330,1167.4L337.2,1167.4L329.8,1200.9ZM330,1167.4L330.1,1166.9L337.4,1166.9L337.2,1167.4ZM332.6,1158.1L333.8,1153.7L341.1,1153.7L339.9,1158.1ZM336.3,1144.9L337.5,1140.5L344.8,1140.5L343.6,1144.9ZM340,1131.8L340.4,1130.5L347.6,1130.5L347.3,1131.8ZM340.4,1130.5L350.1,1096.7L357.4,1096.7L347.6,1130.5ZM352.1,1087.9L353.2,1083.5L360.5,1083.5L359.4,1087.9ZM355.2,1074.7L356.2,1070.3L363.5,1070.3L362.5,1074.7ZM358.1,1061.6L358.2,1061.1L365.5,1061.1L365.4,1061.6ZM358.2,1061.1L366.3,1026.5L373.6,1026.5L365.5,1061.1ZM369,1017.7L370.3,1013.3L377.6,1013.3L376.3,1017.7ZM373,1004.5L374.3,1000.1L381.6,1000.1L380.3,1004.5ZM377,991.4L377.1,991.2L384.3,991.2L384.3,991.4ZM377.1,991.2L389,957L396.2,957L384.3,991.2ZM389,957L389.3,956.3L396.6,956.3L396.2,957ZM394.3,947.5L396.8,943.1L404.1,943.1L401.6,947.5ZM401.8,934.3L404.3,929.9L411.6,929.9L409.1,934.3ZM409.2,921.2L409.2,921.1L416.5,921.1L416.5,921.2ZM409.2,921.1L424,886.4L431.2,886.4L416.5,921.1ZM424,886.4L424.2,886.1L431.5,886.1L431.2,886.4ZM431.6,877.3L433.4,875.2L440.6,875.2L438.9,877.3ZM433.4,875.2L435.7,872.9L443,872.9L440.6,875.2ZM444.4,864.1L445.8,862.8L453,862.8L451.7,864.1ZM445.8,862.8L447.9,859.7L455.2,859.7L453,862.8ZM453.9,851L454.4,850.4L461.6,850.4L461.2,851ZM458,846.8L491.5,815.8L491.5,823L458,854ZM491.5,815.8L493,815.2L493,822.5L491.5,823ZM501.8,811.7L506.2,809.9L506.2,817.2L501.8,819ZM515,806.4L519.4,804.7L519.4,812L515,813.7ZM528.1,801.2L528.7,801L528.7,808.2L528.1,808.5ZM528.7,801L562.2,787.2L562.2,794.5L528.7,808.2ZM562.2,787.2L563.2,786.8L563.2,794.1L562.2,794.5ZM572,782.9L576.4,780.9L576.4,788.2L572,790.2ZM585.2,776.9L589.6,775L589.6,782.3L585.2,784.2ZM598.3,771.1L631.6,757.6L631.6,764.9L598.3,778.4ZM631.6,757.6L633.4,756.7L633.4,764L631.6,764.9ZM642.2,752.8L646.6,750.8L646.6,758.1L642.2,760.1ZM655.4,746.9L659.8,744.9L659.8,752.2L655.4,754.2ZM668.5,741.1L701,730.2L701,737.5L668.5,748.4ZM701,730.2L703.6,729.2L703.6,736.5L701,737.5ZM712.4,725.7L716.8,723.9L716.8,731.2L712.4,733ZM725.6,720.4L725.8,720.4L725.8,727.6L725.6,727.7ZM725.8,720.4L730,718.9L730,726.2L725.8,727.6ZM738.7,715.8L772.1,707.1L772.1,714.4L738.7,723ZM772.1,707.1L773.8,706.6L773.8,713.9L772.1,714.4ZM782.6,704.3L787,703.1L787,710.4L782.6,711.6ZM795.8,700.7L800.2,699.6L800.2,706.9L795.8,708ZM808.9,697.3L809.3,697.1L809.3,704.4L808.9,704.6ZM809.3,697.1L844,689.1L844,696.4L809.3,704.4ZM852.8,687.1L857.2,686L857.2,693.3L852.8,694.4ZM866,684L870.4,683L870.4,690.3L866,691.3ZM879.1,681L914.2,672.8L914.2,680.1L879.1,688.3ZM923,670.8L927.4,669.8L927.4,677.1L923,678.1ZM936.2,667.7L940.6,666.7L940.6,674L936.2,675ZM949.3,664.7L984.4,657.9L984.4,665.2L949.3,672ZM993.2,656.2L997.6,655.3L997.6,662.6L993.2,663.5ZM1006.4,653.6L1010.8,652.7L1010.8,660L1006.4,660.9ZM1019.5,651L1020,651L1020,658.2L1019.5,658.3ZM1020,651L1054.6,644.8L1054.6,652.1L1020,658.2ZM1063.4,643.3L1067.8,642.5L1067.8,649.8L1063.4,650.6ZM1076.6,640.9L1081,640.2L1081,647.5L1076.6,648.2ZM1089.7,638.6L1096.9,637.4L1096.9,644.6L1089.7,645.9ZM1096.9,637.4L1124.8,631.4L1124.8,638.7L1096.9,644.6ZM1133.6,629.5L1138,628.5L1138,635.8L1133.6,636.8ZM1146.8,626.6L1151.2,625.7L1151.2,633L1146.8,633.9ZM1159.9,623.8L1166.3,622.5L1166.3,629.8L1159.9,631.1ZM1166.3,622.5L1195,617.1L1195,624.4L1166.3,629.8ZM1203.8,615.4L1208.2,614.6L1208.2,621.9L1203.8,622.7ZM1217,613L1221.4,612.2L1221.4,619.5L1217,620.3ZM1230.1,610.5L1265.2,604.8L1265.2,612.1L1230.1,617.8ZM1274,603.3L1278.4,602.6L1278.4,609.9L1274,610.6ZM1287.2,601.1L1291.6,600.4L1291.6,607.7L1287.2,608.4ZM1300.3,599L1335.4,593.2L1335.4,600.5L1300.3,606.3ZM1344.2,591.8L1348.6,591L1348.6,598.3L1344.2,599.1ZM1357.4,589.6L1361.8,588.9L1361.8,596.2L1357.4,596.9ZM1370.5,587.4L1388,584.6L1388,591.9L1370.5,594.7ZM1388,584.6L1405.6,581.6L1405.6,588.9L1388,591.9ZM1414.4,580.1L1418.8,579.4L1418.8,586.7L1414.4,587.4ZM1427.6,577.9L1432,577.2L1432,584.5L1427.6,585.2ZM1440.7,575.7L1475.8,569.8L1475.8,577.1L1440.7,583ZM1484.6,568.3L1489,567.6L1489,574.9L1484.6,575.6ZM1497.8,566.1L1502.2,565.4L1502.2,572.7L1497.8,573.4ZM1510.9,563.9L1519,562.6L1519,569.9L1510.9,571.2ZM1519,562.6L1546,558.2L1546,565.5L1519,569.9ZM1554.8,556.8L1559.2,556.1L1559.2,563.4L1554.8,564.1ZM1568,554.7L1572.4,554L1572.4,561.3L1568,562ZM1581.1,552.6L1600,549.6L1600,556.9L1581.1,559.9ZM1600,549.6L1616.2,547.4L1616.2,554.7L1600,556.9ZM1625,546.2L1629.4,545.6L1629.4,552.9L1625,553.5ZM1638.2,544.4L1642.6,543.9L1642.6,551.2L1638.2,551.7ZM1651.3,542.7L1686.4,538L1686.4,545.3L1651.3,550ZM1695.2,536.8L1699.6,536.2L1699.6,543.5L1695.2,544.1ZM1708.4,535.1L1712.8,534.5L1712.8,541.8L1708.4,542.4ZM1721.5,533.3L1756.6,528.6L1756.6,535.9L1721.5,540.6ZM1765.4,527.5L1766.9,527.2L1766.9,534.5L1765.4,534.8ZM1766.9,527.2L1769.8,526.9L1769.8,534.2L1766.9,534.5ZM1778.6,525.7L1783,525.1L1783,532.4L1778.6,533ZM1791.7,524L1826.8,519.3L1826.8,526.6L1791.7,531.3ZM1835.6,518.2L1840,517.6L1840,524.9L1835.6,525.5ZM1848.8,516.4L1853.2,515.8L1853.2,523.1L1848.8,523.7ZM1861.9,514.7L1897,510L1897,517.3L1861.9,522ZM1905.8,508.9L1910.2,508.3L1910.2,515.6L1905.8,516.2ZM1919,507.1L1923.4,506.5L1923.4,513.8L1919,514.4ZM1932.1,505.4L1967.2,500.7L1967.2,508L1932.1,512.7Z"/><path d="M698.4,733.9a2.6,2.6 0 1,0 5.1,0a2.6,2.6 0 1,0 -5.1,0ZM1094.3,641a2.6,2.6 0 1,0 5.1,0a2.6,2.6 0 1,0 -5.1,0ZM1163.7,626.1a2.6,2.6 0 1,0 5.1,0a2.6,2.6 0 1,0 -5.1,0ZM1385.4,588.2a2.6,2.6 0 1,0 5.1,0a2.6,2.6 0 1,0 -5.1,0ZM1516.4,566.2a2.6,2.6 0 1,0 5.1,0a2.6,2.6 0 1,0 -5.1,0ZM1597.4,553.2a2.6,2.6 0 1,0 5.1,0a2.6,2.6 0 1,0 -5.1,0Z"/></g>
<g fill="#d3d3d3"><path d="M333.5,1595.5L367.7,1543L374.9,1543L340.8,1595.5ZM367.7,1543L367.8,1542.8L375.1,1542.8L374.9,1543ZM379.5,1525.3L380.1,1524.4L387.3,1524.4L386.8,1525.3ZM380.1,1524.4L393.5,1472.8L400.8,1472.8L387.3,1524.4ZM393.5,1472.8L393.5,1472.6L400.8,1472.6L400.8,1472.8ZM399.6,1455.1L399.9,1454.5L407.1,1454.5L406.9,1455.1ZM399.9,1454.5L413.6,1402.4L420.8,1402.4L407.1,1454.5ZM419.5,1384.9L419.8,1384.3L427,1384.3L426.8,1384.9ZM419.8,1384.3L432.2,1332.3L439.4,1332.3L427,1384.3ZM432.2,1332.3L432.2,1332.2L439.5,1332.2L439.4,1332.3ZM436.9,1314.7L437.1,1314.2L444.3,1314.2L444.2,1314.7ZM437.1,1314.2L448.2,1262.1L455.5,1262.1L444.3,1314.2ZM448.2,1262.1L448.3,1262L455.6,1262L455.5,1262.1ZM453.1,1244.5L453.2,1244.3L460.4,1244.3L460.4,1244.5ZM453.2,1244.3L464.4,1192.2L471.6,1192.2L460.4,1244.3ZM464.4,1192.2L464.5,1191.8L471.8,1191.8L471.6,1192.2ZM469.2,1174.3L469.2,1174.1L476.5,1174.1L476.5,1174.3ZM469.2,1174.1L472.2,1160L479.5,1160L476.5,1174.1ZM472.2,1160L480.5,1121.9L487.8,1121.9L479.5,1160ZM480.5,1121.9L480.6,1121.6L487.9,1121.6L487.8,1121.9ZM490.6,1104.1L491.1,1103.3L498.3,1103.3L497.9,1104.1ZM491.1,1103.3L519.4,1051.7L526.6,1051.7L498.3,1103.3ZM519.4,1051.7L519.6,1051.4L526.9,1051.4L526.6,1051.7ZM531.9,1033.9L532.5,1033.1L539.8,1033.1L539.2,1033.9ZM532.5,1033.1L561.6,981.8L568.9,981.8L539.8,1033.1ZM561.6,981.8L561.9,981.2L569.2,981.2L568.9,981.8ZM573,963.7L573.4,963.2L580.6,963.2L580.3,963.7ZM573.4,963.2L602.5,911.7L609.8,911.7L580.6,963.2ZM602.5,911.7L602.9,911L610.2,911L609.8,911.7ZM614.6,893.5L614.8,893.3L622,893.3L621.9,893.5ZM614.8,893.3L643.2,840.8L650.5,840.8L622,893.3ZM656,823.3L656.5,822.7L663.8,822.7L663.3,823.3ZM656.5,822.7L685.5,770.6L692.8,770.6L663.8,822.7ZM692.4,753.1L693.6,750L700.9,750L699.7,753.1ZM697.3,746.4L730,732.8L730,740L697.3,753.6ZM730,732.8L749.7,725.1L749.7,732.4L730,740ZM767.2,718.2L819.2,704.6L819.2,711.9L767.2,725.5ZM819.2,704.6L819.9,704.3L819.9,711.6L819.2,711.9ZM837.4,698.5L837.8,698.4L837.8,705.6L837.4,705.8ZM837.8,698.4L888.6,686L888.6,693.2L837.8,705.6ZM888.6,686L890.1,685.6L890.1,692.9L888.6,693.2ZM907.6,680.9L959.3,667.9L959.3,675.1L907.6,688.2ZM959.3,667.9L960.3,667.6L960.3,674.9L959.3,675.1ZM977.8,662.8L1020,651.4L1020,658.6L977.8,670.1ZM1020,651.4L1030.5,649.5L1030.5,656.8L1020,658.6ZM1048,646.4L1096.9,637.6L1096.9,644.9L1048,653.7ZM1096.9,637.6L1100.7,636.8L1100.7,644.1L1096.9,644.9ZM1118.2,633.1L1166.3,622.8L1166.3,630L1118.2,640.4ZM1166.3,622.8L1170.9,621.9L1170.9,629.2L1166.3,630ZM1188.4,618.6L1230,610.9L1230,618.1L1188.4,625.9ZM1230,610.9L1241.1,609L1241.1,616.3L1230,618.1ZM1258.6,606.1L1311.3,597.5L1311.3,604.8L1258.6,613.4ZM1328.8,594.6L1381.5,585.9L1381.5,593.2L1328.8,601.9ZM1399,583L1451.7,574.2L1451.7,581.5L1399,590.3ZM1469.2,571.2L1519,562.9L1519,570.1L1469.2,578.5ZM1519,562.9L1521.9,562.4L1521.9,569.7L1519,570.1ZM1539.4,559.6L1592.1,551.1L1592.1,558.4L1539.4,566.9ZM1609.6,548.6L1662.3,541.6L1662.3,548.9L1609.6,555.9ZM1679.8,539.2L1732.5,532.2L1732.5,539.5L1679.8,546.5ZM1750,529.9L1766.9,527.6L1766.9,534.9L1750,537.2ZM1766.9,527.6L1802.7,522.9L1802.7,530.2L1766.9,534.9ZM1820.2,520.6L1872.9,513.6L1872.9,520.9L1820.2,527.9ZM1890.4,511.3L1943.1,504.3L1943.1,511.6L1890.4,518.6ZM1960.6,502L1974.6,500.2L1974.6,507.4L1960.6,509.3Z"/><path d="M473.3,1160a2.6,2.6 0 1,0 5.1,0a2.6,2.6 0 1,0 -5.1,0ZM727.4,736.4a2.6,2.6 0 1,0 5.1,0a2.6,2.6 0 1,0 -5.1,0ZM1017.4,655a2.6,2.6 0 1,0 5.1,0a2.6,2.6 0 1,0 -5.1,0ZM1094.3,641.3a2.6,2.6 0 1,0 5.1,0a2.6,2.6 0 1,0 -5.1,0ZM1163.7,626.4a2.6,2.6 0 1,0 5.1,0a2.6,2.6 0 1,0 -5.1,0ZM1227.4,614.5a2.6,2.6 0 1,0 5.1,0a2.6,2.6 0 1,0 -5.1,0ZM1516.4,566.5a2.6,2.6 0 1,0 5.1,0a2.6,2.6 0 1,0 -5.1,0ZM1764.3,531.3a2.6,2.6 0 1,0 5.1,0a2.6,2.6 0 1,0 -5.1,0Z"/></g>
<path fill="#d3d3d3" stroke="#d3d3d3" stroke-width="1.2" stroke-linejoin="round" d="M701.4,1186L708,1186L708,1188L711.3,1188L717.7,1194.4L717.7,1197.7L719.7,1197.7L719.7,1204.3L717.7,1204.3L717.7,1207.6L711.3,1214L708,1214L708,1216L701.4,1216L701.4,1214L698.1,1214L691.7,1207.6L691.7,1204.3L689.7,1204.3L689.7,1197.7L691.7,1197.7L691.7,1194.4L698.1,1188L701.4,1188ZM777,1154.3L783.6,1154.3L783.6,1156.3L786.9,1156.3L793.3,1162.7L793.3,1166L795.3,1166L795.3,1172.6L793.3,1172.6L793.3,1175.9L786.9,1182.3L783.6,1182.3L783.6,1184.3L777,1184.3L777,1182.3L773.7,1182.3L767.3,1175.9L767.3,1172.6L765.3,1172.6L765.3,1166L767.3,1166L767.3,1162.7L773.7,1156.3L777,1156.3ZM999.3,1029.5L1005.9,1029.5L1005.9,1031.5L1009.2,1031.5L1015.6,1037.9L1015.6,1041.2L1017.6,1041.2L1017.6,1047.8L1015.6,1047.8L1015.6,1051.1L1009.2,1057.5L1005.9,1057.5L1005.9,1059.5L999.3,1059.5L999.3,1057.5L996,1057.5L989.6,1051.1L989.6,1047.8L987.6,1047.8L987.6,1041.2L989.6,1041.2L989.6,1037.9L996,1031.5L999.3,1031.5ZM1193.9,835L1200.5,835L1200.5,837L1203.8,837L1210.2,843.4L1210.2,846.7L1212.2,846.7L1212.2,853.3L1210.2,853.3L1210.2,856.6L1203.8,863L1200.5,863L1200.5,865L1193.9,865L1193.9,863L1190.6,863L1184.2,856.6L1184.2,853.3L1182.2,853.3L1182.2,846.7L1184.2,846.7L1184.2,843.4L1190.6,837L1193.9,837ZM1376.8,728.2L1383.4,728.2L1383.4,730.2L1386.7,730.2L1393.1,736.6L1393.1,739.9L1395.1,739.9L1395.1,746.5L1393.1,746.5L1393.1,749.8L1386.7,756.2L1383.4,756.2L1383.4,758.2L1376.8,758.2L1376.8,756.2L1373.5,756.2L1367.1,749.8L1367.1,746.5L1365.1,746.5L1365.1,739.9L1367.1,739.9L1367.1,736.6L1373.5,730.2L1376.8,730.2ZM1555.3,652.2L1561.9,652.2L1561.9,654.2L1565.2,654.2L1571.6,660.6L1571.6,663.9L1573.6,663.9L1573.6,670.5L1571.6,670.5L1571.6,673.8L1565.2,680.2L1561.9,680.2L1561.9,682.2L1555.3,682.2L1555.3,680.2L1552,680.2L1545.6,673.8L1545.6,670.5L1543.6,670.5L1543.6,663.9L1545.6,663.9L1545.6,660.6L1552,654.2L1555.3,654.2ZM1730.7,602.6L1737.3,602.6L1737.3,604.6L1740.6,604.6L1747,611L1747,614.3L1749,614.3L1749,620.9L1747,620.9L1747,624.2L1740.6,630.6L1737.3,630.6L1737.3,632.6L1730.7,632.6L1730.7,630.6L1727.4,630.6L1721,624.2L1721,620.9L1719,620.9L1719,614.3L1721,614.3L1721,611L1727.4,604.6L1730.7,604.6ZM1911.9,545.3L1918.5,545.3L1918.5,547.3L1921.8,547.3L1928.2,553.7L1928.2,557L1930.2,557L1930.2,563.6L1928.2,563.6L1928.2,566.9L1921.8,573.3L1918.5,573.3L1918.5,575.3L1911.9,575.3L1911.9,573.3L1908.6,573.3L1902.2,566.9L1902.2,563.6L1900.2,563.6L1900.2,557L1902.2,557L1902.2,553.7L1908.6,547.3L1911.9,547.3Z"/>
<g fill="#000">
<rect x="240.6" y="47" width="7.4" height="1552.8"/>
<rect x="240.6" y="1592.4" width="1734" height="7.4"/>
<rect x="244.2" y="1575" width="21.4" height="1.3"/>
<rect x="244.2" y="1543" width="21.4" height="1.3"/>
<rect x="244.2" y="1507.6" width="35.8" height="7.6"/>
<rect x="244.2" y="1479" width="21.4" height="1.3"/>
<rect x="244.2" y="1447" width="21.4" height="1.3"/>
<rect x="244.2" y="1415" width="21.4" height="1.3"/>
<rect x="244.2" y="1383" width="21.4" height="1.3"/>
<rect x="244.2" y="1347.8" width="35.8" height="7.6"/>
<rect x="244.2" y="1319" width="21.4" height="1.3"/>
<rect x="244.2" y="1287" width="21.4" height="1.3"/>
<rect x="244.2" y="1255" width="21.4" height="1.3"/>
<rect x="244.2" y="1223" width="21.4" height="1.3"/>
<rect x="244.2" y="1187.9" width="35.8" height="7.6"/>
<rect x="244.2" y="1159" width="21.4" height="1.3"/>
<rect x="244.2" y="1127" width="21.4" height="1.3"/>
<rect x="244.2" y="1095" width="21.4" height="1.3"/>
<rect x="244.2" y="1063" width="21.4" height="1.3"/>
<rect x="244.2" y="1028.1" width="35.8" height="7.6"/>
<rect x="244.2" y="999" width="21.4" height="1.3"/>
<rect x="244.2" y="967" width="21.4" height="1.3"/>
<rect x="244.2" y="935" width="21.4" height="1.3"/>
<rect x="244.2" y="903" width="21.4" height="1.3"/>
<rect x="244.2" y="868.3" width="35.8" height="7.6"/>
<rect x="244.2" y="839" width="21.4" height="1.3"/>
<rect x="244.2" y="807" width="21.4" height="1.3"/>
<rect x="244.2" y="776" width="21.4" height="1.3"/>
<rect x="244.2" y="744" width="21.4" height="1.3"/>
<rect x="244.2" y="708.4" width="35.8" height="7.6"/>
<rect x="244.2" y="680" width="21.4" height="1.3"/>
<rect x="244.2" y="648" width="21.4" height="1.3"/>
<rect x="244.2" y="616" width="21.4" height="1.3"/>
<rect x="244.2" y="584" width="21.4" height="1.3"/>
<rect x="244.2" y="548.6" width="35.8" height="7.6"/>
<rect x="244.2" y="520" width="21.4" height="1.3"/>
<rect x="244.2" y="488" width="21.4" height="1.3"/>
<rect x="244.2" y="456" width="21.4" height="1.3"/>
<rect x="244.2" y="424" width="21.4" height="1.3"/>
<rect x="244.2" y="388.8" width="35.8" height="7.6"/>
<rect x="244.2" y="360" width="21.4" height="1.3"/>
<rect x="244.2" y="328" width="21.4" height="1.3"/>
<rect x="244.2" y="296" width="21.4" height="1.3"/>
<rect x="244.2" y="264" width="21.4" height="1.3"/>
<rect x="244.2" y="228.9" width="35.8" height="7.6"/>
<rect x="244.2" y="200" width="21.4" height="1.3"/>
<rect x="244.2" y="168" width="21.4" height="1.3"/>
<rect x="244.2" y="136" width="21.4" height="1.3"/>
<rect x="244.2" y="104" width="21.4" height="1.3"/>
<rect x="244.2" y="69.1" width="35.8" height="7.6"/>
<rect x="312" y="1574.5" width="1.3" height="21.6"/>
<rect x="381" y="1574.5" width="1.3" height="21.6"/>
<rect x="450" y="1574.5" width="1.3" height="21.6"/>
<rect x="517" y="1559" width="7.2" height="37.1"/>
<rect x="588" y="1574.5" width="1.3" height="21.6"/>
<rect x="657" y="1574.5" width="1.3" height="21.6"/>
<rect x="727" y="1574.5" width="1.3" height="21.6"/>
<rect x="796" y="1574.5" width="1.3" height="21.6"/>
<rect x="862.5" y="1559" width="7.2" height="37.1"/>
<rect x="934" y="1574.5" width="1.3" height="21.6"/>
<rect x="1003" y="1574.5" width="1.3" height="21.6"/>
<rect x="1072" y="1574.5" width="1.3" height="21.6"/>
<rect x="1141" y="1574.5" width="1.3" height="21.6"/>
<rect x="1208" y="1559" width="7.2" height="37.1"/>
<rect x="1279" y="1574.5" width="1.3" height="21.6"/>
<rect x="1348" y="1574.5" width="1.3" height="21.6"/>
<rect x="1418" y="1574.5" width="1.3" height="21.6"/>
<rect x="1487" y="1574.5" width="1.3" height="21.6"/>
<rect x="1553.5" y="1559" width="7.2" height="37.1"/>
<rect x="1625" y="1574.5" width="1.3" height="21.6"/>
<rect x="1694" y="1574.5" width="1.3" height="21.6"/>
<rect x="1763" y="1574.5" width="1.3" height="21.6"/>
<rect x="1832" y="1574.5" width="1.3" height="21.6"/>
<rect x="1899" y="1559" width="7.2" height="37.1"/>
<rect x="1970" y="1574.5" width="1.3" height="21.6"/>
</g>
<text id="t0" transform="translate(222.4 1530.6) scale(1 1.04)" font-size="55" text-anchor="end">0.05</text>
<text id="t1" transform="translate(224.2 1370.8) scale(1 1.04)" font-size="55" text-anchor="end" dx="-0 -0 1.82">0.1</text>
<g transform="translate(224.2 1370.8) scale(1 1.04)" fill="#fff"><rect x="-27.21" y="-4.71" width="10.44" height="5.51"/><rect x="-11.91" y="-4.71" width="10.01" height="5.51"/></g>
<text id="t2" transform="translate(222.4 1210.9) scale(1 1.04)" font-size="55" text-anchor="end" dx="-0 -0 1.82 -1.82">0.15</text>
<g transform="translate(222.4 1210.9) scale(1 1.04)" fill="#fff"><rect x="-55.99" y="-4.71" width="10.44" height="5.51"/><rect x="-40.69" y="-4.71" width="10.01" height="5.51"/></g>
<text id="t3" transform="translate(222.4 1051.1) scale(1 1.04)" font-size="55" text-anchor="end">0.2</text>
<text id="t4" transform="translate(222.4 891.3) scale(1 1.04)" font-size="55" text-anchor="end">0.25</text>
<text id="t5" transform="translate(222.4 731.4) scale(1 1.04)" font-size="55" text-anchor="end">0.3</text>
<text id="t6" transform="translate(222.4 571.6) scale(1 1.04)" font-size="55" text-anchor="end">0.35</text>
<text id="t7" transform="translate(222.4 411.8) scale(1 1.04)" font-size="55" text-anchor="end">0.4</text>
<text id="t8" transform="translate(222.4 251.9) scale(1 1.04)" font-size="55" text-anchor="end">0.45</text>
<text id="t9" transform="translate(222.4 92.1) scale(1 1.04)" font-size="55" text-anchor="end">0.5</text>
<text id="t10" transform="translate(520.1 1651.6) scale(1 1.04)" font-size="55" text-anchor="middle">400</text>
<text id="t11" transform="translate(865.6 1651.6) scale(1 1.04)" font-size="55" text-anchor="middle">500</text>
<text id="t12" transform="translate(1211.1 1651.6) scale(1 1.04)" font-size="55" text-anchor="middle">600</text>
<text id="t13" transform="translate(1556.6 1651.6) scale(1 1.04)" font-size="55" text-anchor="middle">700</text>
<text id="t14" transform="translate(1902.1 1651.6) scale(1 1.04)" font-size="55" text-anchor="middle">800</text>
<text id="t15" transform="translate(1110.2 1714.3) scale(1 1.03)" font-size="66.9" text-anchor="middle" font-weight="bold">Catalyst temperature (K)</text>
<text id="t16" transform="translate(77 821.8) rotate(-90) scale(1 1.03)" font-size="66.4" text-anchor="middle" font-weight="bold">H2 Conversion</text>
<path fill="#000" stroke="#000" stroke-width="1.2" stroke-linejoin="round" d="M1020.1,1352.6L1026.7,1352.6L1026.7,1354.6L1030,1354.6L1036.4,1361L1036.4,1364.3L1038.4,1364.3L1038.4,1370.9L1036.4,1370.9L1036.4,1374.2L1030,1380.6L1026.7,1380.6L1026.7,1382.6L1020.1,1382.6L1020.1,1380.6L1016.8,1380.6L1010.4,1374.2L1010.4,1370.9L1008.4,1370.9L1008.4,1364.3L1010.4,1364.3L1010.4,1361L1016.8,1354.6L1020.1,1354.6Z"/>
<path d="M897,1431.8L932.1,1431.8L932.1,1439.2L897,1439.2ZM940.9,1431.8L945.3,1431.8L945.3,1439.2L940.9,1439.2ZM954.1,1431.8L958.5,1431.8L958.5,1439.2L954.1,1439.2ZM967.2,1431.8L1002.3,1431.8L1002.3,1439.2L967.2,1439.2ZM1011.1,1431.8L1015.5,1431.8L1015.5,1439.2L1011.1,1439.2ZM1024.3,1431.8L1028.7,1431.8L1028.7,1439.2L1024.3,1439.2ZM1037.4,1431.8L1072.5,1431.8L1072.5,1439.2L1037.4,1439.2ZM1081.3,1431.8L1085.7,1431.8L1085.7,1439.2L1081.3,1439.2ZM1094.5,1431.8L1098.9,1431.8L1098.9,1439.2L1094.5,1439.2ZM1107.6,1431.8L1142.7,1431.8L1142.7,1439.2L1107.6,1439.2Z" fill="#000"/>
<path d="M897,1497.3L949.7,1497.3L949.7,1504.7L897,1504.7ZM967.2,1497.3L1019.9,1497.3L1019.9,1504.7L967.2,1504.7ZM1037.4,1497.3L1090.1,1497.3L1090.1,1504.7L1037.4,1504.7ZM1107.6,1497.3L1147.5,1497.3L1147.5,1504.7L1107.6,1504.7Z" fill="#000"/>
<text id="t17" transform="translate(1188.8 1384.9) scale(1 1.03)" font-size="55.8" font-weight="bold">Experiment</text>
<text id="t18" transform="translate(1188.8 1450.4) scale(1 1.03)" font-size="55.8" font-weight="bold" dx="-0 -0 -0 -0 -0 -0 -0 -0 -0 -0 -0 -0 -0 -0 -0 -0 -0 -0 -0 -0 -0 -0 -0 2.23 -2.23">Karakaya-Deutschmann 2016</text>
<g transform="translate(1188.8 1450.4) scale(1 1.03)" fill="#fff"><rect x="718.21" y="-6.29" width="10.31" height="7.09"/><rect x="736.18" y="-6.29" width="9.6" height="7.09"/></g>
<text id="t19" transform="translate(1188.8 1517.4) scale(1 1.03)" font-size="55.8" font-weight="bold" dx="-0 -0 -0 -0 -0 -0 -0 -0 -0 -0 -0 -0 -0 -0 -0 -0 -0 -0 -0 2.23 0">Rankovic-Dacosta 2011</text>
<g transform="translate(1188.8 1517.4) scale(1 1.03)" fill="#fff"><rect x="566.24" y="-6.29" width="10.31" height="7.09"/><rect x="584.21" y="-6.29" width="9.6" height="7.09"/></g>
<g transform="translate(1188.8 1517.4) scale(1 1.03)" fill="#fff"><rect x="597.28" y="-6.29" width="10.31" height="7.09"/><rect x="615.24" y="-6.29" width="9.6" height="7.09"/></g>
<text id="t20" transform="translate(0 159.5) scale(1 1.03)" font-size="64.3" fill="#000000"><tspan x="1558.7" y="0" dx="0 0 2.1 -2.1">2*10</tspan><tspan x="1689" y="-42.1" font-size="38.5">6</tspan><tspan x="1727.8" y="0">NL/kg/h</tspan></text>
<g transform="translate(0 159.5) scale(1 1.03)" fill="#fff"><rect x="1625.7" y="-5.4" width="12.07" height="6.2"/><rect x="1643.45" y="-5.4" width="11.57" height="6.2"/></g>
<text id="t21" transform="translate(0 420.6) scale(1 1.03)" font-size="64.3" fill="#cf0000"><tspan x="1556.3" y="0" dx="0 0 2.1 -2.1">4*10</tspan><tspan x="1693.5" y="-35.9" font-size="38.5">6</tspan><tspan x="1725" y="0">NL/kg/h</tspan></text>
<g transform="translate(0 420.6) scale(1 1.03)" fill="#fff"><rect x="1623.3" y="-5.4" width="12.07" height="6.2"/><rect x="1641.05" y="-5.4" width="11.57" height="6.2"/></g>
<text id="t22" transform="translate(0 755.6) scale(1 1.03)" font-size="64.3" fill="#d3d3d3"><tspan x="1555.5" y="0" dx="0 0 2.1 -2.1">8*10</tspan><tspan x="1689" y="-39.4" font-size="38.5">6</tspan><tspan x="1723.7" y="0">NL/kg/h</tspan></text>
<g transform="translate(0 755.6) scale(1 1.03)" fill="#fff"><rect x="1622.5" y="-5.4" width="12.07" height="6.2"/><rect x="1640.25" y="-5.4" width="11.57" height="6.2"/></g>
</svg></body></html>
